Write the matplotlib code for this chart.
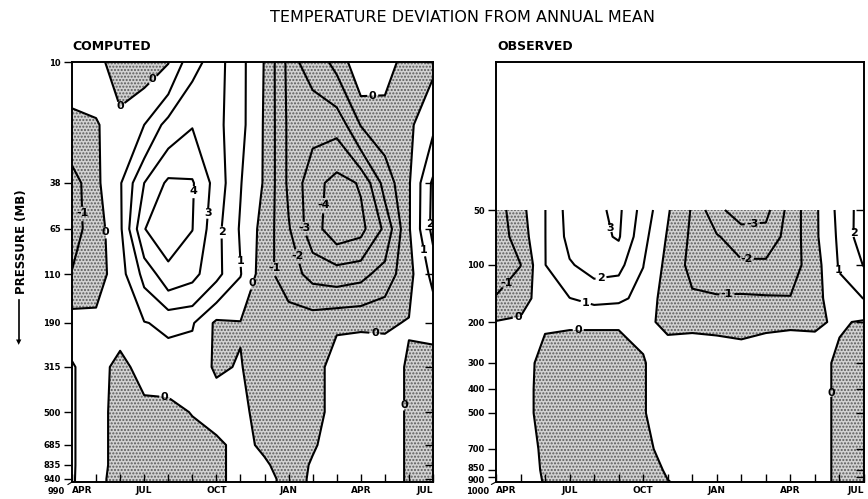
import numpy as np
import matplotlib
matplotlib.use("Agg")
import matplotlib.pyplot as plt
import matplotlib.transforms as mtransforms

plt.rcParams['font.family'] = ['DejaVu Sans']
plt.rcParams['hatch.color'] = '#5a5a5a'
plt.rcParams['hatch.linewidth'] = 1.0

# ---- data (deg C deviation), columns = months APR .. JUL (+15) ----
months = np.arange(16)
month_tick_pos = [0, 3, 6, 9, 12, 15]
month_labels = ["APR", "JUL", "OCT", "JAN", "APR", "JUL"]

comp_levels = [10, 20, 38, 65, 110, 190, 315, 500, 685, 835, 940, 990]
comp_10 = [0.3, 0.3, -0.5, -0.5, -0.05, 1.7, 2.4, 1.3, -0.05, -2.3, -1.6, -0.7, 0.8, 0.4, -0.4, -0.2]
comp_20 = [-0.15, -0.05, 0.3, 1.0, 2.4, 2.95, 2.3, 1.3, -0.1, -2.2, -2.7, -2.7, -0.95, -0.5, -0.2, 0.8]
comp_38 = [-1.5, -0.2, 0.9, 3.0, 4.2, 4.1, 2.6, 1.05, -0.1, -2.2, -3.6, -4.4, -3.9, -1.6, -0.1, 2.2]
comp_65 = [-1.4, -0.5, 0.8, 3.97, 4.6, 4.02, 2.3, 0.9, -0.4, -1.9, -3.6, -4.6, -4.3, -2.8, -0.1, 2.3]
comp_110 = [-0.95, -0.5, 0.6, 2.3, 3.7, 3.3, 2.3, 1.05, -0.6, -1.6, -2.3, -2.5, -2.3, -1.6, -0.3, 1.3]
comp_190 = [0.5, 0.3, 0.4, 0.95, 1.2, 1.1, -0.2, -0.05, -0.3, -0.4, -0.4, -0.15, -0.1, -0.1, 0.05, 0.3]
comp_315 = [1.1, 0.4, -0.3, 0.4, 0.5, 0.4, -0.1, 0.05, -0.5, -0.7, -0.5, 0.5, 0.5, 0.4, -0.1, -0.4]
comp_500 = [1.1, 0.4, -0.4, -0.3, -0.3, 0.05, 0.4, 0.3, -0.5, -0.7, -0.4, 0.4, 0.5, 0.4, -0.1, -0.4]
comp_685 = [1.1, 0.4, -0.4, -0.5, -0.5, -0.4, -0.2, 0.3, -0.2, -0.6, -0.1, 0.4, 0.5, 0.4, -0.1, -0.4]
comp_835 = [1.1, 0.4, -0.4, -0.5, -0.5, -0.4, -0.2, 0.3, 0.15, -0.5, 0.1, 0.4, 0.5, 0.4, -0.1, -0.4]
comp_940 = [1.1, 0.3, -0.4, -0.5, -0.5, -0.4, -0.2, 0.3, 0.3, -0.3, 0.1, 0.4, 0.5, 0.4, -0.1, -0.4]
comp_990 = [1.1, 0.3, -0.4, -0.5, -0.5, -0.4, -0.2, 0.3, 0.3, -0.3, 0.1, 0.4, 0.5, 0.4, -0.1, -0.4]

obs_levels = [50, 70, 100, 150, 200, 300, 400, 500, 700, 850, 1000]
obs_50 = [-1.5, -0.3, 0.98, 2.4, 2.8, 3.2, 1.6, 0.1, -1.1, -2.8, -3.4, -3.3, -1.6, -0.2, 1.3, 2.5]
obs_70 = [-1.6, -0.5, 0.98, 2.3, 2.7, 3.1, 1.3, -0.1, -1.2, -1.9, -2.6, -2.6, -1.6, -0.2, 1.2, 2.6]
obs_100 = [-1.4, -1.02, 0.98, 1.9, 2.4, 2.3, 1.02, -0.3, -1.3, -1.6, -1.8, -1.8, -1.5, -0.4, 1.1, 2.05]
obs_150 = [-0.95, -0.4, 0.5, 0.98, 1.3, 1.2, 0.7, -0.5, -0.85, -0.9, -0.85, -0.9, -0.95, -0.3, 0.6, 1.02]
obs_200 = [0.05, 0.15, 0.1, 0.1, 0.1, 0.1, 0.15, -0.15, -0.15, -0.2, -0.3, -0.15, -0.1, -0.1, 0.1, -0.1]
obs_300 = [0.4, 0.4, -0.3, -0.5, -0.5, -0.5, -0.05, 0.4, 0.5, 0.5, 0.5, 0.5, 0.5, 0.4, -0.2, -0.5]
obs_400 = [0.4, 0.4, -0.35, -0.5, -0.5, -0.5, -0.05, 0.4, 0.5, 0.5, 0.5, 0.5, 0.5, 0.4, -0.2, -0.5]
obs_500 = [0.4, 0.4, -0.35, -0.5, -0.5, -0.5, -0.05, 0.4, 0.5, 0.5, 0.5, 0.5, 0.5, 0.4, -0.2, -0.5]
obs_700 = [0.4, 0.4, -0.15, -0.5, -0.5, -0.5, -0.3, 0.4, 0.5, 0.5, 0.5, 0.5, 0.5, 0.4, -0.2, -0.5]
obs_850 = [0.4, 0.4, -0.1, -0.5, -0.5, -0.5, -0.4, 0.1, 0.5, 0.5, 0.5, 0.5, 0.5, 0.4, -0.2, -0.5]
obs_1000 = [0.4, 0.4, -0.05, -0.5, -0.5, -0.5, -0.4, -0.05, 0.4, 0.5, 0.5, 0.5, 0.5, 0.4, -0.2, -0.5]

comp_ticks = [10, 38, 65, 110, 190, 315, 500, 685, 835, 940]
obs_ticks = [50, 100, 200, 300, 400, 500, 700, 850, 900]
contour_levels = [-4, -3, -2, -1, 0, 1, 2, 3, 4]

computed = np.array([comp_10, comp_20, comp_38, comp_65, comp_110, comp_190,
                     comp_315, comp_500, comp_685, comp_835, comp_940, comp_990])
observed = np.array([obs_50, obs_70, obs_100, obs_150, obs_200, obs_300,
                     obs_400, obs_500, obs_700, obs_850, obs_1000])

# label spots (month, mb)
comp_label_spots = [(2.85, 10.6), (2.1, 17), (0.7, 54), (1.4, 67), (5.2, 42), (5.8, 54),
                    (6.2, 67), (6.75, 95), (7.3, 120), (12.5, 15), (10.3, 49), (9.8, 64),
                    (9.5, 88), (8.6, 103), (14.7, 61), (14.5, 84), (12.6, 199),
                    (3.9, 379), (13.8, 465)]
obs_label_spots = [(0.9, 131), (0.9, 188), (3.7, 155), (4.4, 131), (4.65, 63), (3.35, 200),
                   (10.45, 60), (10.2, 90), (9.4, 132), (14.5, 67), (13.9, 106), (13.5, 415)]

# vertical axis spacing of the original (pressure -> pixels below the frame top)
comp_axis_p = [10, 38, 65, 110, 190, 315, 500, 685, 835, 940, 990]
comp_axis_px = [0, 121, 167, 212, 261, 305, 350, 383, 403, 417, 420]
obs_axis_p = [10, 50, 100, 200, 300, 400, 500, 700, 850, 900, 1000]
obs_axis_px = [0, 148, 203, 260, 301, 327, 351, 387, 408, 415, 420]


def make_scale(p_tab, px_tab):
    lp = np.log(np.array(p_tab, float))
    px = np.array(px_tab, float)

    def fwd(p):
        p = np.clip(np.asarray(p, float), p_tab[0], p_tab[-1])
        return np.interp(np.log(p), lp, px)

    def inv(y):
        return np.exp(np.interp(np.asarray(y, float), px, lp))
    return fwd, inv


def draw_panel(ax, levels, field, spots, scale, ticks, bottom, bottom_lab):
    ax.set_yscale('function', functions=scale)
    X, Y = np.meshgrid(months, levels)
    ax.contourf(X, Y, field, levels=[-10, 0], colors=['#d2d2d2'], hatches=['.....'])
    cs = ax.contour(X, Y, field, levels=contour_levels, colors='k', linewidths=1.5,
                    linestyles='solid')
    txt = ax.clabel(cs, fmt='%d', fontsize=8, inline=True, inline_spacing=2, manual=spots)
    for t in txt:
        t.set_fontweight('bold')
        t.set_rotation(0)
    ax.set_xlim(0, 15)
    ax.set_ylim(bottom, 10)

    ax.set_xticks(months)
    ax.set_xticklabels([month_labels[month_tick_pos.index(m)] if m in month_tick_pos else ''
                        for m in months], fontsize=6.5, fontweight='bold')
    xl = ax.get_xticklabels()
    xl[0].set_ha('left')
    xl[-1].set_ha('right')
    ax.tick_params(axis='x', direction='in', length=6, width=1, pad=3)

    ax.set_yticks(ticks)
    ax.set_yticklabels([str(t) for t in ticks], fontsize=6, fontweight='bold')
    ax.tick_params(axis='y', direction='out', length=6, width=1, pad=2)
    ax.annotate(bottom_lab, xy=(0, bottom), xycoords=('axes fraction', 'data'),
                xytext=(-5, -7), textcoords='offset points', ha='right', va='center',
                fontsize=6, fontweight='bold',
                arrowprops=dict(arrowstyle='-', lw=0.8, shrinkA=0, shrinkB=0))

    # inward ticks on the right frame
    ax2 = ax.twinx()
    ax2.set_yscale('function', functions=scale)
    ax2.set_ylim(bottom, 10)
    ax2.set_yticks(ticks)
    ax2.set_yticklabels([])
    ax2.tick_params(axis='y', direction='in', length=6, width=1)

    for a in (ax, ax2):
        for s in a.spines.values():
            s.set_linewidth(1.2)


fig = plt.figure(figsize=(8.68, 4.99), dpi=100)
H = 499.0
W = 868.0
ax_c = fig.add_axes([72 / W, 1 - 482 / H, 361 / W, 420 / H])
ax_o = fig.add_axes([496 / W, 1 - 482 / H, 368 / W, 420 / H])

draw_panel(ax_c, comp_levels, computed, comp_label_spots,
           make_scale(comp_axis_p, comp_axis_px), comp_ticks, 990, '990')
draw_panel(ax_o, obs_levels, observed, obs_label_spots,
           make_scale(obs_axis_p, obs_axis_px), obs_ticks, 1000, '1000')

# the 850 / 900 labels sit very close together: spread them a little
for lab in ax_o.get_yticklabels():
    if lab.get_text() == '850':
        lab.set_transform(lab.get_transform() + mtransforms.ScaledTranslation(0, 2 / 72, fig.dpi_scale_trans))
    elif lab.get_text() == '900':
        lab.set_transform(lab.get_transform() + mtransforms.ScaledTranslation(0, -1.5 / 72, fig.dpi_scale_trans))

fig.text(462 / W, 1 - 17 / H, "TEMPERATURE DEVIATION FROM ANNUAL MEAN",
         ha='center', va='center', fontsize=11.5)
fig.text(72 / W, 1 - 47 / H, "COMPUTED", ha='left', va='center', fontsize=9, fontweight='bold')
fig.text(497 / W, 1 - 47 / H, "OBSERVED", ha='left', va='center', fontsize=9, fontweight='bold')
fig.text(22 / W, 1 - 242 / H, "PRESSURE (MB)", rotation=90, ha='center', va='center',
         fontsize=8.5, fontweight='bold')
fig.add_artist(plt.Line2D([19 / W, 19 / W], [1 - 300 / H, 1 - 340 / H], color='k', lw=1.2))
fig.text(19 / W, 1 - 342 / H, "\u25BC", ha='center', va='center', fontsize=5)

fig.savefig("out.png", dpi=100)
